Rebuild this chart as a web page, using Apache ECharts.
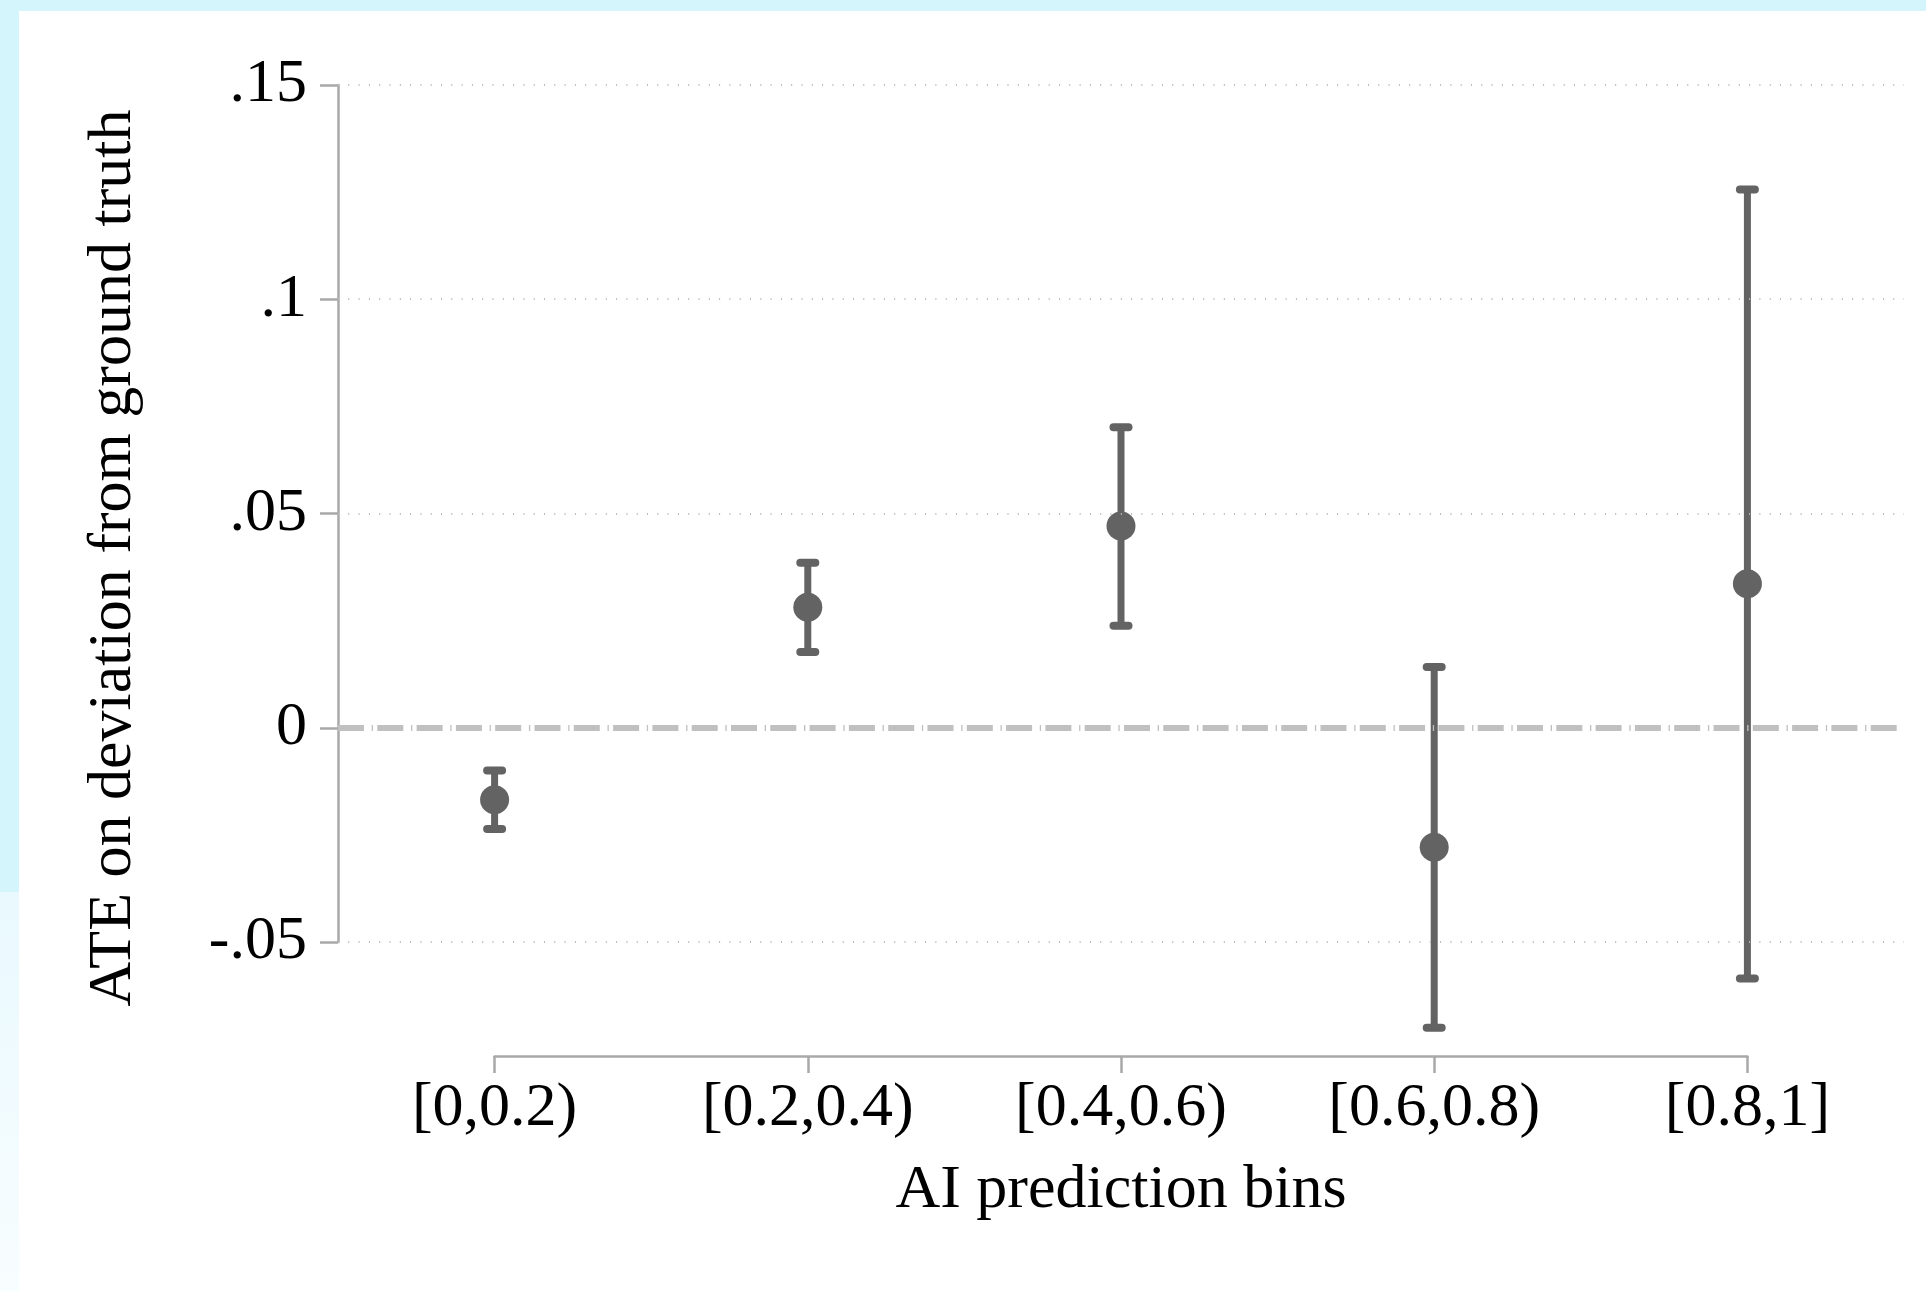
<!DOCTYPE html>
<html>
<head>
<meta charset="utf-8">
<title>ATE by AI prediction bin</title>
<script src="https://cdn.jsdelivr.net/npm/echarts@6/dist/echarts.min.js"></script>
<style>
html, body { margin: 0; padding: 0; background: #fff; }
#chart { width: 1926px; height: 1291px; }
</style>
</head>
<body>
<div id="chart"></div>
<script>
// data
var bins = ['[0,0.2)', '[0.2,0.4)', '[0.4,0.6)', '[0.6,0.8)', '[0.8,1]'];
var ate = [-0.0168, 0.0281, 0.0471, -0.0279, 0.0336];
var ciLow = [-0.0236, 0.0177, 0.0238, -0.0700, -0.0585];
var ciHigh = [-0.0100, 0.0385, 0.0701, 0.0142, 0.1256];
var yTickLabels = ['-.05', '0', '.05', '.1', '.15'];
var gridValues = [-0.05, 0.05, 0.1, 0.15];

var serif = '"Liberation Serif", "Times New Roman", serif';
var markColor = '#636363';
var axisColor = '#a9a9a9';

var myChart = echarts.init(document.getElementById('chart'));

function renderBar(params, api) {
	var i = api.value(0);
	var lo = api.coord([i, api.value(1)]);
	var hi = api.coord([i, api.value(2)]);
	var cap = 7.5;
	var capStyle = { stroke: markColor, lineWidth: 8, lineCap: 'round' };
	return {
		type: 'group',
		children: [
			{ type: 'line', shape: { x1: lo[0], y1: lo[1], x2: hi[0], y2: hi[1] }, style: { stroke: markColor, lineWidth: 7 } },
			{ type: 'line', shape: { x1: lo[0] - cap, y1: lo[1], x2: lo[0] + cap, y2: lo[1] }, style: capStyle },
			{ type: 'line', shape: { x1: hi[0] - cap, y1: hi[1], x2: hi[0] + cap, y2: hi[1] }, style: capStyle }
		]
	};
}

var refLines = gridValues.map(function(v) {
	return { yAxis: v, lineStyle: { type: [1, 9.3], width: 2, color: '#b9b9b9' } };
});
// zero reference line, long dash - dot
refLines.push({ yAxis: 0, lineStyle: { type: [26, 7.7, 1.3, 4.3], width: 6, color: '#c0c0c0' } });

var option = {
	backgroundColor: '#ffffff',
	animation: false,
	graphic: [
		{ type: 'rect', shape: { x: 0, y: 0, width: 1926, height: 11 }, style: { fill: '#d5f5fd' }, z: -10 },
		{ type: 'rect', shape: { x: 0, y: 0, width: 19, height: 892 }, style: { fill: '#d5f5fd' }, z: -10 },
		{ type: 'rect', shape: { x: 0, y: 892, width: 19, height: 399 }, style: {
			fill: new echarts.graphic.LinearGradient(0, 0, 0, 1, [
				{ offset: 0, color: '#e9f9fe' }, { offset: 1, color: '#f8fdff' }
			]) }, z: -10 },
		{
			type: 'text', x: 114, y: 558, rotation: Math.PI / 2,
			style: {
				text: 'ATE on deviation from ground truth',
				fontFamily: serif, fontSize: 62, fill: '#000',
				align: 'center', verticalAlign: 'middle'
			}
		}
	],
	grid: [
		{ left: 338, top: 85, width: 1566, height: 857, outerBoundsMode: 'none' },
		{ left: 494.6, top: 1000, width: 1252.8, height: 56, outerBoundsMode: 'none' }
	],
	xAxis: [
		{ type: 'category', gridIndex: 0, data: bins, show: false },
		{
			type: 'category', gridIndex: 1, data: bins, boundaryGap: false,
			axisLine: { show: true, lineStyle: { color: axisColor, width: 2.5 } },
			axisTick: { show: true, length: 17, lineStyle: { color: axisColor, width: 2.5 } },
			axisLabel: { interval: 0, margin: 22, fontFamily: serif, fontSize: 62, color: '#000' },
			splitLine: { show: false },
			name: 'AI prediction bins', nameLocation: 'middle', nameGap: 104,
			nameTextStyle: { fontFamily: serif, fontSize: 62, color: '#000' }
		}
	],
	yAxis: [
		{
			type: 'value', gridIndex: 0, min: -0.05, max: 0.15, interval: 0.05,
			axisLine: { show: true, lineStyle: { color: axisColor, width: 2.5 } },
			axisTick: { show: true, length: 18, lineStyle: { color: axisColor, width: 2.5 } },
			axisLabel: {
				margin: 31, fontFamily: serif, fontSize: 62, color: '#000',
				formatter: function(value, index) { return yTickLabels[index]; }
			},
			splitLine: { show: false }
		},
		{ type: 'value', gridIndex: 1, show: false }
	],
	series: [
		{
			type: 'scatter', xAxisIndex: 0, yAxisIndex: 0, data: [], z: 1, silent: true,
			markLine: { silent: true, symbol: 'none', label: { show: false }, data: refLines }
		},
		{
			type: 'custom', xAxisIndex: 0, yAxisIndex: 0, z: 3, clip: false,
			renderItem: renderBar,
			data: bins.map(function(b, i) { return [i, ciLow[i], ciHigh[i]]; })
		},
		{
			type: 'scatter', xAxisIndex: 0, yAxisIndex: 0, z: 4,
			symbol: 'circle', symbolSize: 29,
			itemStyle: { color: markColor, opacity: 1 },
			data: ate
		}
	]
};
myChart.setOption(option, true);
</script>
</body>
</html>
